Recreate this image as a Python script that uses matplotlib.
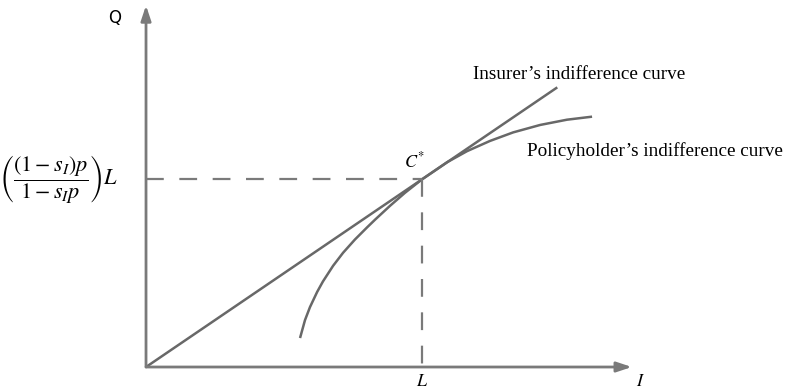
import matplotlib
matplotlib.use('Agg')
import matplotlib.pyplot as plt

plt.rcParams['mathtext.fontset'] = 'stix'

# contract point C* = (L, q_star), in units of L
L = 1.0
q_star = 0.68
insurer_slope = q_star / L
insurer_I = [0.0, 1.49]

# policyholder indifference curve, read point by point
holder_I = [0.558, 0.576, 0.594, 0.620, 0.641, 0.678, 0.714, 0.757, 0.801, 0.830,
            0.884, 0.938, 1.0, 1.091, 1.163, 1.246, 1.330, 1.428, 1.525, 1.616]
holder_Q = [0.105, 0.170, 0.217, 0.272, 0.310, 0.367, 0.414, 0.462, 0.506, 0.534,
            0.584, 0.631, 0.68, 0.742, 0.782, 0.819, 0.850, 0.877, 0.896, 0.907]

x_max = 1.76
y_max = 1.31

fig = plt.figure(figsize=(7.85, 3.9), dpi=100)
ax = fig.add_axes([0, 0, 1, 1])
ax.set_xlim(-0.529, 2.315)
ax.set_ylim(-0.0833, 1.3297)
ax.axis('off')

axis_col = '#7a7a7a'
line_col = '#686868'

# axes with arrow heads
arrow = dict(arrowstyle='-|>,head_length=0.9,head_width=0.3', color=axis_col, lw=2,
             shrinkA=0, shrinkB=0)
ax.annotate('', xy=(x_max, 0), xytext=(0, 0), arrowprops=arrow)
ax.annotate('', xy=(0, y_max), xytext=(0, 0), arrowprops=arrow)

# insurer line through the origin, policyholder curve tangent at C*
ax.plot(insurer_I, [insurer_slope * i for i in insurer_I], color=line_col, lw=1.8,
        solid_capstyle='butt')
ax.plot(holder_I, holder_Q, color=line_col, lw=1.8, solid_capstyle='butt',
        solid_joinstyle='round')

# dashed guides to C*
ax.plot([0, L], [q_star, q_star], color=axis_col, lw=1.6, dashes=(8, 7))
ax.plot([L, L], [q_star, 0], color=axis_col, lw=1.6, dashes=(8, 7))

serif = 'Liberation Serif'
ax.text(-0.112, 1.264, 'Q', fontsize=12, ha='center', va='center', family='DejaVu Sans')
ax.text(1.79, -0.05, r'$I$', fontsize=13, ha='center', va='center')
ax.text(L, -0.05, r'$L$', fontsize=13, ha='center', va='center')
ax.text(0.974, 0.745, r'$C^{*}$', fontsize=13, ha='center', va='center')
ax.text(1.185, 1.058, 'Insurer’s indifference curve', fontsize=13.8, ha='left',
        va='center', family=serif)
ax.text(1.38, 0.783, 'Policyholder’s indifference curve', fontsize=13.8, ha='left',
        va='center', family=serif)
ax.text(-0.1, q_star, r'$\left(\dfrac{(1-s_I)p}{1-s_I p}\right)L$', fontsize=16,
        ha='right', va='center')

fig.savefig('out.png', dpi=100)
